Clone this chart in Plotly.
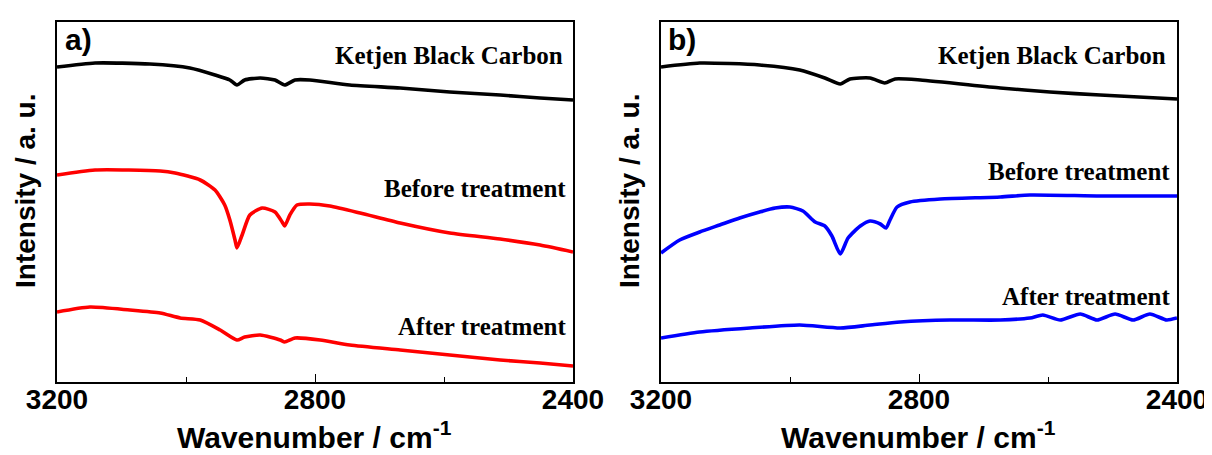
import plotly.graph_objects as go

# ---- Data; intensity in arbitrary units ----
# Panel a)
a_black_wn = [3200, 3141, 3056, 2994, 2955, 2932, 2921, 2909, 2885, 2862, 2847, 2831, 2808, 2746, 2668, 2591, 2513, 2451, 2400]
a_black_i = [315, 319, 318, 314, 307, 302, 297, 302, 304, 302, 297, 302, 302, 297, 294, 290, 287, 284, 282]

a_before_wn = [3200, 3141, 3040, 3017, 2978, 2955, 2940, 2932, 2924, 2921, 2913, 2901, 2882, 2862, 2851, 2847, 2839, 2828, 2808, 2777, 2730, 2668, 2591, 2513, 2451, 2400]
a_before_i = [207, 212, 211, 209, 202, 192, 177, 162, 142, 134, 147, 167, 174, 170, 160, 156, 167, 177, 178, 176, 169, 159, 149, 143, 137, 130]

a_after_wn = [3200, 3149, 3087, 3040, 3009, 2978, 2947, 2921, 2909, 2885, 2854, 2847, 2831, 2792, 2746, 2668, 2591, 2513, 2451, 2400]
a_after_i = [70, 75, 72, 69, 64, 62, 52, 42, 45, 47, 42, 40, 44, 42, 37, 32, 27, 22, 19, 16]

# Panel b)
b_black_wn = [3200, 3140, 3047, 2985, 2946, 2922, 2907, 2876, 2853, 2837, 2798, 2674, 2597, 2519, 2400]
b_black_i = [315, 319, 317, 312, 304, 298, 303, 304, 299, 303, 302, 294, 290, 287, 283]

b_before_wn = [3200, 3171, 3140, 3109, 3078, 3047, 3023, 3000, 2980, 2961, 2946, 2935, 2922, 2910, 2891, 2876, 2860, 2851, 2845, 2834, 2814, 2767, 2674, 2628, 2519, 2400]
b_before_i = [129, 142, 150, 157, 164, 170, 174, 175, 171, 160, 156, 146, 128, 144, 156, 161, 158, 154, 162, 175, 180, 183, 185, 187, 186, 186]

b_after_wn = [3200, 3140, 3062, 2985, 2922, 2876, 2829, 2752, 2674, 2628, 2608, 2581, 2550, 2524, 2496, 2468, 2442, 2416, 2400]
b_after_i = [44, 50, 54, 57, 54, 57, 60, 62, 62, 64, 67, 62, 68, 62, 68, 62, 68, 62, 64]

labels = ["Ketjen Black Carbon", "Before treatment", "After treatment"]
panel_names = ["a)", "b)"]
tick_vals = [3200, 2800, 2400]
minor_vals = [3000, 2600]
x_title = "Wavenumber / cm<sup>-1</sup>"
y_title = "Intensity / a. u."

BLACK = "#000000"
RED = "#ff0000"
BLUE = "#0000ff"

fig = go.Figure()

def add(x, y, color, xa, ya):
    fig.add_trace(go.Scatter(x=x, y=y, mode="lines", line=dict(color=color, width=3.6, shape="spline", smoothing=0.6),
                             xaxis=xa, yaxis=ya, showlegend=False, hoverinfo="skip"))

add(a_black_wn, a_black_i, BLACK, "x", "y")
add(a_before_wn, a_before_i, RED, "x", "y")
add(a_after_wn, a_after_i, RED, "x", "y")
add(b_black_wn, b_black_i, BLACK, "x2", "y2")
add(b_before_wn, b_before_i, BLUE, "x2", "y2")
add(b_after_wn, b_after_i, BLUE, "x2", "y2")

# page has an 8px body margin: figure drawn at offset (8, 8)
OFF = 8
W, H = 1212 - OFF, 455 - OFF

def fx(px):
    return (px - OFF) / W

def fy(py):
    return 1 - (py - OFF) / H

ydom = [fy(382), fy(22)]
xdomA = [fx(57), fx(573)]
xdomB = [fx(661), fx(1177)]

tickfont = dict(family="Arial, Liberation Sans, sans-serif", size=28, color="black")
titlefont = dict(family="Arial, Liberation Sans, sans-serif", size=30, color="black")

def xaxis(dom, anchor):
    return dict(domain=dom, anchor=anchor, range=[3200, 2400], tickvals=tick_vals,
                ticktext=["<b>%d</b>" % v for v in tick_vals], ticks="inside", ticklen=8,
                tickwidth=1.2, tickcolor="black", minor=dict(tickvals=minor_vals, ticks="inside", ticklen=5,
                tickwidth=1.2, tickcolor="black"),
                showline=True, linecolor="black", linewidth=1.5, mirror=True, showgrid=False,
                zeroline=False, tickfont=tickfont, automargin=False, ticklabelstandoff=-8,
                ticklabeloverflow="allow")

def yaxis(anchor):
    return dict(domain=ydom, anchor=anchor, range=[0, 360], showticklabels=False, ticks="",
                showline=True, linecolor="black", linewidth=1.5, mirror=True, showgrid=False,
                zeroline=False, automargin=False)

fig.update_layout(
    width=W, height=H, margin=dict(l=0, r=0, t=0, b=0),
    paper_bgcolor="white", plot_bgcolor="white",
    xaxis=xaxis(xdomA, "y"), yaxis=yaxis("x"),
    xaxis2=xaxis(xdomB, "y2"), yaxis2=yaxis("x2"),
)

ann = []
serif = dict(family="Times New Roman, Liberation Serif, serif", size=25, color="black")
# curve labels (data coordinates)
for xr, yr, pos in [("x", "y", [(2412, 327), (2408, 194), (2408, 56)]),
                    ("x2", "y2", [(2414, 327), (2408, 211), (2408, 86)])]:
    for lab, (xx, yy) in zip(labels, pos):
        ann.append(dict(x=xx, y=yy, xref=xr, yref=yr, text="<b>%s</b>" % lab, showarrow=False,
                        xanchor="right", yanchor="middle", font=serif))
# panel labels
for name, px in zip(panel_names, [63, 666]):
    ann.append(dict(x=fx(px), y=fy(40), xref="paper", yref="paper", text="<b>%s</b>" % name,
                    showarrow=False, xanchor="left", yanchor="middle", font=titlefont))
# y titles
for px in [26, 630]:
    ann.append(dict(x=fx(px), y=fy(191), xref="paper", yref="paper", text="<b>%s</b>" % y_title,
                    textangle=-90, showarrow=False, xanchor="center", yanchor="middle",
                    font=dict(family="Arial, Liberation Sans, sans-serif", size=28, color="black")))
# x titles
for px in [314, 918]:
    ann.append(dict(x=fx(px), y=fy(435), xref="paper", yref="paper", text="<b>%s</b>" % x_title,
                    showarrow=False, xanchor="center", yanchor="middle", font=titlefont))
fig.update_layout(annotations=ann)

fig.write_html("out.html")
